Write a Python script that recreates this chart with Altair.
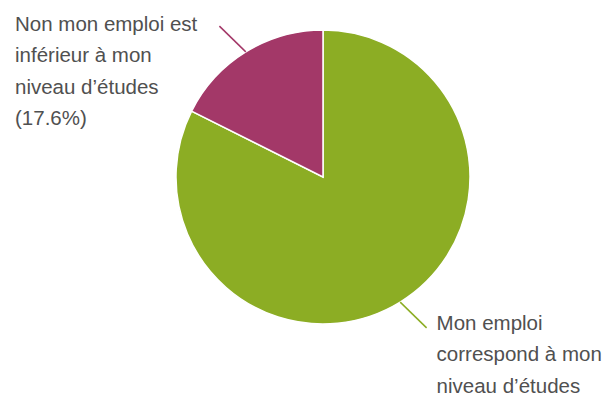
import math
import altair as alt
import pandas as pd

# ---- data ----
categories = [
    "Mon emploi correspond à mon niveau d’études",
    "Non mon emploi est inférieur à mon niveau d’études",
]
values = [82.4, 17.6]
label_lines = [
    ["Mon emploi", "correspond à mon", "niveau d’études", "(82.4%)"],
    ["Non mon emploi est", "inférieur à mon", "niveau d’études", "(17.6%)"],
]
colors = ["#8cad24", "#a33868"]

# ---- layout / style parameters ----
CX, CY = 315, 169      # pie centre inside the view
R = 147                # pie radius
R_OUT = 183            # leader-line outer radius
SHIFT = -2.8           # leader-line outer end angular shift (deg)
LEFT_X = 7             # left-hand labels start here
TEXT_COLOR = "#505050"
FONT = "Liberation Sans"
FONT_SIZE = 20.5
LINE_H = 31.5

total = sum(values)
rows = []
cum = 0.0
for i, (cat, v, lines) in enumerate(zip(categories, values, label_lines)):
    mid = (cum + v / 2) / total * 360.0
    cum += v
    a0 = math.radians(mid)
    a1 = math.radians(mid + SHIFT)
    x1 = CX + R * math.sin(a0)
    y1 = CY - R * math.cos(a0)
    x2 = CX + R_OUT * math.sin(a1)
    y2 = CY - R_OUT * math.cos(a1)
    right = math.sin(a0) > 0
    rows.append(
        dict(
            idx=i,
            category=cat,
            value=v,
            label="\n".join(lines),
            x1=x1, y1=y1, x2=x2, y2=y2,
            tx=(x2 + 10) if right else LEFT_X,
            ty=y2 + (2 if right else 4.5),
        )
    )
df = pd.DataFrame(rows)

base = alt.Chart(df)

color = alt.Color(
    "category:N",
    scale=alt.Scale(domain=categories, range=colors),
    legend=None,
)

pie = base.mark_arc(outerRadius=R, stroke="white", strokeWidth=1.5).encode(
    theta=alt.Theta("value:Q", stack=True),
    order=alt.Order("idx:Q"),
    color=color,
    x=alt.value(CX),
    y=alt.value(CY),
)

leaders = base.mark_rule(strokeWidth=1.5).encode(
    x=alt.X("x1:Q", scale=None),
    y=alt.Y("y1:Q", scale=None),
    x2="x2:Q",
    y2="y2:Q",
    color=color,
)

labels = base.mark_text(
    align="left",
    baseline="alphabetic",
    font=FONT,
    fontSize=FONT_SIZE,
    lineHeight=LINE_H,
    lineBreak="\n",
    color=TEXT_COLOR,
).encode(
    x=alt.X("tx:Q", scale=None),
    y=alt.Y("ty:Q", scale=None),
    text="label:N",
)

chart = (
    alt.layer(pie, leaders, labels)
    .properties(width=596, height=398, padding=0, autosize="none")
    .configure_view(stroke=None)
)

chart.save("out.html", embed_options={"renderer": "svg", "actions": False})
